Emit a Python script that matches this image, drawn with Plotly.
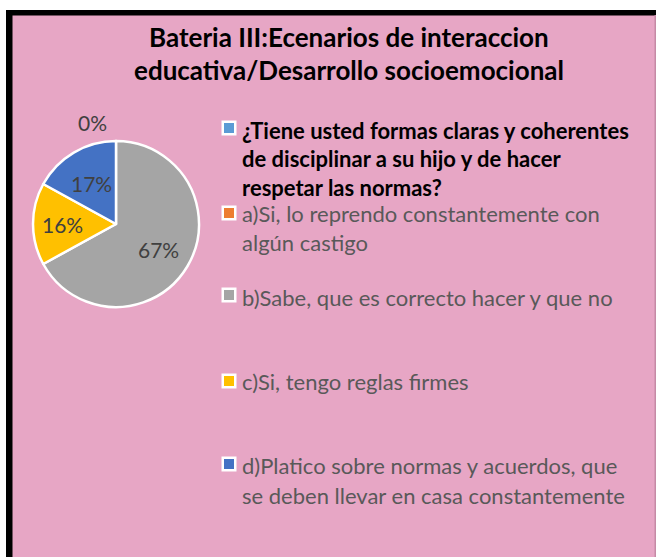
import math
import plotly.graph_objects as go

W, H = 656, 557

# ---- data ----
title_lines = ["Bateria III:Ecenarios de interaccion", "educativa/Desarrollo socioemocional"]
categories = [
    "¿Tiene usted formas claras y coherentes de disciplinar a su hijo y de hacer respetar las normas?",
    "a)Si, lo reprendo constantemente con algún castigo",
    "b)Sabe, que es correcto hacer y que no",
    "c)Si, tengo reglas firmes",
    "d)Platico sobre normas y acuerdos, que se deben llevar en casa constantemente",
]
legend_lines = [
    ["¿Tiene usted formas claras y coherentes", "de disciplinar a su hijo y de hacer", "respetar las normas?"],
    ["a)Si, lo reprendo constantemente con", "algún castigo"],
    ["b)Sabe, que es correcto hacer y que no"],
    ["c)Si, tengo reglas firmes"],
    ["d)Platico sobre normas y acuerdos, que", "se deben llevar en casa constantemente"],
]
values = [0, 0, 67, 16, 17]
colors = ["#5B9BD5", "#ED7D31", "#A5A5A5", "#FFC000", "#4472C4"]

PINK = "#E7A6C5"
FONT = "Lato"


def px(x):
    return x / W


def py(y):
    return 1 - y / H


fig = go.Figure()

# pie (header category has no value; slice order follows legend, clockwise from top)
cx, cy, r = 116, 224, 83
fig.add_trace(go.Pie(
    labels=categories[1:],
    values=values[1:],
    marker=dict(colors=colors[1:], line=dict(color="white", width=2.5)),
    sort=False,
    direction="clockwise",
    rotation=0,
    textinfo="none",
    hoverinfo="label+percent",
    showlegend=False,
    domain=dict(x=[px(cx - r), px(cx + r)], y=[py(cy + r), py(cy - r)]),
))

shapes = []
annotations = []

# background frame
shapes.append(dict(type="rect", xref="paper", yref="paper", x0=px(12), x1=px(656), y0=py(557), y1=py(15),
                   fillcolor=PINK, line=dict(width=0), layer="below"))
shapes.append(dict(type="rect", xref="paper", yref="paper", x0=px(6), x1=px(12.5), y0=py(557), y1=py(10),
                   fillcolor="black", line=dict(width=0), layer="below"))
shapes.append(dict(type="rect", xref="paper", yref="paper", x0=px(6), x1=px(656), y0=py(15.5), y1=py(10),
                   fillcolor="black", line=dict(width=0), layer="below"))
shapes.append(dict(type="rect", xref="paper", yref="paper", x0=px(654.5), x1=px(656), y0=py(557), y1=py(15),
                   fillcolor="#C58AA6", line=dict(width=0), layer="below"))

# title
for i, (t, yc) in enumerate(zip(title_lines, [37, 70])):
    annotations.append(dict(text="<b>" + t + "</b>", x=px(349), y=py(yc), xref="paper", yref="paper",
                            xanchor="center", yanchor="middle", showarrow=False,
                            font=dict(family=FONT, size=26, color="black")))

# data labels computed from the values (percent of total, at mid angle of slice)
total = sum(values[1:])
cum = 0.0
label_f = [1.22, 0.6, 0.64, 0.57]
for k, v in enumerate(values[1:]):
    pct = v / total
    mid = (cum + pct / 2) * 2 * math.pi
    cum += pct
    f = label_f[k]
    lx = cx + r * f * math.sin(mid)
    ly = cy - r * f * math.cos(mid)
    if v == 0:
        lx -= 24
    annotations.append(dict(text=f"{round(pct * 100)}%", x=px(lx), y=py(ly), xref="paper", yref="paper",
                            xanchor="center", yanchor="middle", showarrow=False,
                            font=dict(family=FONT, size=21, color="#404040")))

# legend
sq_y = [128, 213, 295, 381, 464]
line_y = [[130, 158, 187], [213, 242], [297], [381], [465, 495]]
sq_x = 229
for i, lines in enumerate(legend_lines):
    shapes.append(dict(type="rect", xref="paper", yref="paper",
                       x0=px(sq_x - 7.5), x1=px(sq_x + 7.5), y0=py(sq_y[i] + 7.5), y1=py(sq_y[i] - 7.5),
                       fillcolor="white", line=dict(width=0)))
    shapes.append(dict(type="rect", xref="paper", yref="paper",
                       x0=px(sq_x - 5), x1=px(sq_x + 5), y0=py(sq_y[i] + 5), y1=py(sq_y[i] - 5),
                       fillcolor=colors[i], line=dict(width=0)))
    for j, ln in enumerate(lines):
        if i == 0:
            txt = "<b>" + ln + "</b>"
            col = "black"
        else:
            txt = ln
            col = "#595959"
        annotations.append(dict(text=txt, x=px(240), y=py(line_y[i][j]), xref="paper", yref="paper",
                                xanchor="left", yanchor="middle", showarrow=False,
                                font=dict(family=FONT, size=22, color=col)))

fig.update_layout(
    width=W, height=H,
    margin=dict(l=0, r=0, t=0, b=0),
    paper_bgcolor="white",
    plot_bgcolor="white",
    shapes=shapes,
    annotations=annotations,
)

fig.write_html("out.html", config={"displayModeBar": False},
               post_script="document.body.style.margin='0';document.body.style.overflow='hidden';")
